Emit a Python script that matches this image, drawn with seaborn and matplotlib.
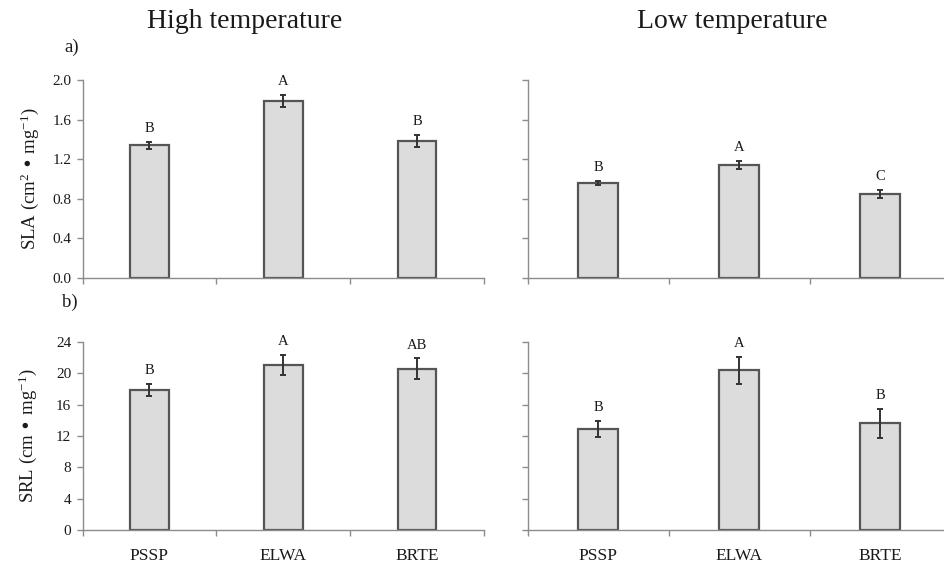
import numpy as np
import pandas as pd
import matplotlib
matplotlib.use("Agg")
import matplotlib.pyplot as plt
import seaborn as sns

# data
species = ["PSSP", "ELWA", "BRTE"]

sla_high = [1.34, 1.79, 1.38]
sla_high_se = [0.035, 0.06, 0.06]
sla_high_letters = ["B", "A", "B"]

sla_low = [0.96, 1.14, 0.85]
sla_low_se = [0.02, 0.04, 0.04]
sla_low_letters = ["B", "A", "C"]

srl_high = [17.9, 21.1, 20.6]
srl_high_se = [0.75, 1.25, 1.3]
srl_high_letters = ["B", "A", "AB"]

srl_low = [12.9, 20.4, 13.6]
srl_low_se = [1.0, 1.7, 1.85]
srl_low_letters = ["B", "A", "B"]

sla_ticks = [0.0, 0.4, 0.8, 1.2, 1.6, 2.0]
srl_ticks = [0, 4, 8, 12, 16, 20, 24]

sns.set_style("white")
plt.rcParams["font.family"] = ["Liberation Serif", "DejaVu Serif"]
plt.rcParams["mathtext.default"] = "regular"

BAR = "#dcdcdc"
EDGE = "#555555"
SPINE = "#8c8c8c"
TXT = "#1a1a1a"

fig = plt.figure(figsize=(9.44, 5.67), dpi=100)
W, H = 944, 567


def add_ax(x0, x1, y0, y1):
    return fig.add_axes([x0 / W, 1 - y1 / H, (x1 - x0) / W, (y1 - y0) / H])


ax_tl = add_ax(82.5, 484, 80, 278)
ax_tr = add_ax(527.5, 950.5, 80, 278)
ax_bl = add_ax(82.5, 484, 342, 530)
ax_br = add_ax(527.5, 950.5, 342, 530)

panels = [
    (ax_tl, sla_high, sla_high_se, sla_high_letters, sla_ticks, True, False),
    (ax_tr, sla_low, sla_low_se, sla_low_letters, sla_ticks, False, False),
    (ax_bl, srl_high, srl_high_se, srl_high_letters, srl_ticks, True, True),
    (ax_br, srl_low, srl_low_se, srl_low_letters, srl_ticks, False, True),
]

for ax, vals, se, letters, ticks, show_y, show_x in panels:
    df = pd.DataFrame({"species": species, "value": vals})
    sns.barplot(data=df, x="species", y="value", ax=ax, width=0.29,
                color=BAR, saturation=1, edgecolor=EDGE, linewidth=1.6,
                errorbar=None)
    ax.errorbar(np.arange(len(species)), vals, yerr=se, fmt="none",
                ecolor="#333333", elinewidth=1.4, capsize=2.5, capthick=1.4)
    for i, (v, e, lab) in enumerate(zip(vals, se, letters)):
        ax.annotate(lab, (i, v + e), xytext=(0, 5), textcoords="offset points",
                    ha="center", va="bottom", fontsize=10.5, color=TXT)

    ax.set_xlim(-0.5, 2.5)
    ax.set_ylim(ticks[0], ticks[-1])
    if ticks[-1] < 5:
        ylabels = [f"{t:.1f}" for t in ticks]
    else:
        ylabels = [str(t) for t in ticks]
    ax.set_yticks(ticks, labels=ylabels)
    ax.set_xticks(range(len(species)), labels=species)
    ax.set_xticks([-0.5, 0.5, 1.5, 2.5], minor=True)
    ax.tick_params(axis="x", which="major", bottom=False, top=False,
                   length=0, pad=13, labelsize=12.5, labelcolor=TXT,
                   labelbottom=show_x, labeltop=False)
    ax.tick_params(axis="x", which="minor", bottom=True, top=False, length=4,
                   width=1, color=SPINE, direction="out")
    ax.tick_params(axis="y", left=True, right=False, length=4, width=1,
                   color=SPINE, direction="out", pad=4, labelsize=11,
                   labelcolor=TXT, labelleft=show_y, labelright=False)
    ax.set_xlabel("")
    ax.set_ylabel("")
    for side in ["top", "right"]:
        ax.spines[side].set_visible(False)
    for side in ["left", "bottom"]:
        ax.spines[side].set_color(SPINE)
        ax.spines[side].set_linewidth(1)
    ax.set_facecolor("none")
    if not show_y:
        for t in ax.yaxis.get_major_ticks():
            t.label1.set_visible(False)
            t.label2.set_visible(False)

ax_tl.set_ylabel("SLA (cm$^2$ • mg$^{-1}$)", fontsize=13.5, labelpad=8,
                 color=TXT)
ax_bl.set_ylabel("SRL (cm • mg$^{-1}$)", fontsize=13.5, labelpad=12,
                 color=TXT)

fig.text(245 / W, 1 - 22 / H, "High temperature", fontsize=20,
         ha="center", va="center", color=TXT)
fig.text(732 / W, 1 - 22 / H, "Low temperature", fontsize=20,
         ha="center", va="center", color=TXT)
fig.text(72 / W, 1 - 47 / H, "a)", fontsize=13.5, ha="center", va="center",
         color=TXT)
fig.text(70 / W, 1 - 302 / H, "b)", fontsize=13.5, ha="center", va="center",
         color=TXT)

fig.savefig("out.png", dpi=100)
